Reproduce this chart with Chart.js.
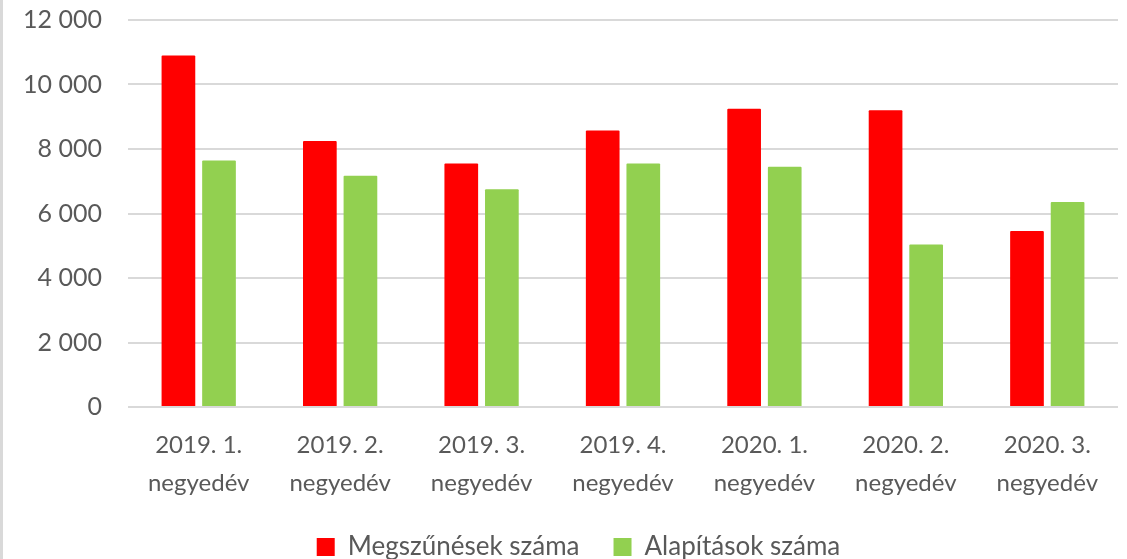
<!DOCTYPE html>
<html lang="hu">
<head>
<meta charset="utf-8">
<title>Megszűnések és alapítások</title>
<script src="https://cdn.jsdelivr.net/npm/chart.js@4"></script>
<style>
  html, body { margin: 0; padding: 0; background: #fff; }
  #wrap {
    position: relative;
    width: 1127px;
    height: 559px;
    box-sizing: border-box;
    border-left: 3px solid #d9d9d9;
  }
</style>
</head>
<body>
<div id="wrap"><canvas id="chartBar" width="1124" height="559"></canvas></div>
<script>
"use strict";

// negyedévek
var negyedevek = [
  ['2019. 1.', 'negyedév'],
  ['2019. 2.', 'negyedév'],
  ['2019. 3.', 'negyedév'],
  ['2019. 4.', 'negyedév'],
  ['2020. 1.', 'negyedév'],
  ['2020. 2.', 'negyedév'],
  ['2020. 3.', 'negyedév']
];

var megszunesek = [10900, 8250, 7550, 8570, 9250, 9200, 5460];
var alapitasok  = [7640, 7170, 6750, 7550, 7450, 5040, 6360];

var yTicks = [0, 2000, 4000, 6000, 8000, 10000, 12000];

var SZURKE = '#595959';
var BETU   = "Lato, 'Open Sans', sans-serif";

function ezres(v) {
  return String(v).replace(/\B(?=(\d{3})+(?!\d))/g, ' ');
}

// a jelmagyarázat kicsit jobbra ül, mint a vászon közepe
var legendEltolas = {
  id: 'legendEltolas',
  afterLayout: function (chart) {
    if (chart.legend) {
      chart.legend.left += 14;
      chart.legend.right += 14;
    }
  }
};

new Chart(document.getElementById('chartBar'), {
  type: 'bar',
  data: {
    labels: negyedevek,
    datasets: [
      {
        label: 'Megszűnések száma',
        data: megszunesek,
        backgroundColor: '#ff0000',
        borderWidth: 0,
        borderRadius: 1,
        categoryPercentage: 0.574,
        barPercentage: 0.83
      },
      {
        label: 'Alapítások száma',
        data: alapitasok,
        backgroundColor: '#92d050',
        borderWidth: 0,
        borderRadius: 1,
        categoryPercentage: 0.574,
        barPercentage: 0.83
      }
    ]
  },
  plugins: [legendEltolas],
  options: {
    responsive: false,
    animation: false,
    layout: { padding: { top: 0, right: 9, left: 8, bottom: -11 } },
    plugins: {
      tooltip: { enabled: false },
      legend: {
        position: 'bottom',
        labels: {
          color: SZURKE,
          font: { family: BETU, size: 26 },
          boxWidth: 18,
          boxHeight: 18,
          padding: 34
        }
      }
    },
    scales: {
      x: {
        grid: { display: false },
        border: { display: false },
        ticks: {
          color: SZURKE,
          font: { family: BETU, size: 24, lineHeight: 1.55 },
          padding: 12,
          maxRotation: 0
        },
        afterFit: function (s) { s.height = 93; }
      },
      y: {
        min: 0,
        max: 12000,
        afterBuildTicks: function (s) {
          s.ticks = yTicks.map(function (v) { return { value: v }; });
        },
        grid: { color: '#d9d9d9', lineWidth: 2, drawTicks: false },
        border: { display: false },
        ticks: {
          color: SZURKE,
          font: { family: BETU, size: 25 },
          padding: 26,
          callback: function (v) { return ezres(v); }
        },
        afterFit: function (s) {
          s.width = 117;
          s.paddingTop = 20;
          s.paddingBottom = 0;
        }
      }
    }
  }
});
</script>
</body>
</html>
